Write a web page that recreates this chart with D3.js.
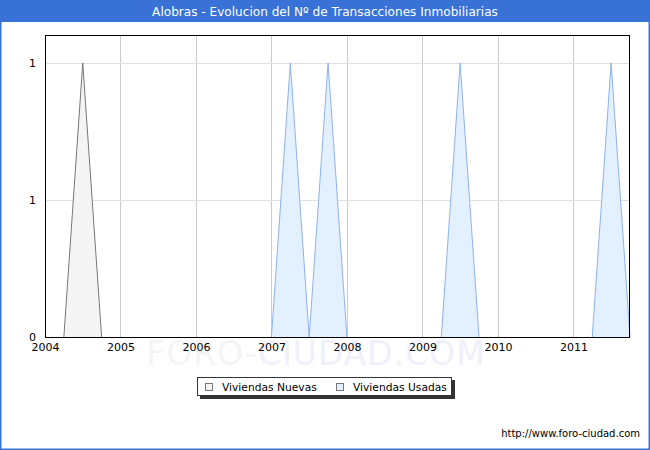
<!DOCTYPE html>
<html>
<head>
<meta charset="utf-8">
<script src="https://cdn.jsdelivr.net/npm/d3@7"></script>
<style>
  html, body { margin: 0; padding: 0; background: #fff; }
  svg { display: block; }
</style>
</head>
<body>
<svg id="chart" width="650" height="450"></svg>
<script>
// ---- Data (quarterly, 2004 Q1 .. 2011 Q4) ----
const quarters = [
  2004.00, 2004.25, 2004.50, 2004.75,
  2005.00, 2005.25, 2005.50, 2005.75,
  2006.00, 2006.25, 2006.50, 2006.75,
  2007.00, 2007.25, 2007.50, 2007.75,
  2008.00, 2008.25, 2008.50, 2008.75,
  2009.00, 2009.25, 2009.50, 2009.75,
  2010.00, 2010.25, 2010.50, 2010.75,
  2011.00, 2011.25, 2011.50, 2011.75
];
const viviendasNuevas = [
  0, 0, 1, 0,
  0, 0, 0, 0,
  0, 0, 0, 0,
  0, 0, 0, 0,
  0, 0, 0, 0,
  0, 0, 0, 0,
  0, 0, 0, 0,
  0, 0, 0, 0
];
const viviendasUsadas = [
  0, 0, 0, 0,
  0, 0, 0, 0,
  0, 0, 0, 0,
  0, 1, 0, 1,
  0, 0, 0, 0,
  0, 0, 1, 0,
  0, 0, 0, 0,
  0, 0, 1, 0
];
const xTickYears = [2004, 2005, 2006, 2007, 2008, 2009, 2010, 2011];
const yTickValues = [0, 0.5, 1];
const yTickLabels = ["0", "1", "1"];
const seriesNames = ["Viviendas Nuevas", "Viviendas Usadas"];
const titleText = "Alobras - Evolucion del Nº de Transacciones Inmobiliarias";

// ---- Layout ----
const W = 650, H = 450;
const plot = { left: 45, right: 630, top: 35, bottom: 337 };
const svg = d3.select("#chart");
const font = "DejaVu Sans, Verdana, sans-serif";

const x = d3.scaleLinear().domain([2004, 2011.75]).range([plot.left, plot.right]);
const y = d3.scaleLinear().domain([0, 1.102]).range([plot.bottom, plot.top]);

// background
svg.append("rect").attr("x", 0).attr("y", 0).attr("width", W).attr("height", H).attr("fill", "#fff");

// title bar
svg.append("rect").attr("x", 0).attr("y", 0).attr("width", W).attr("height", 22).attr("fill", "#3872d6");
svg.append("text").attr("x", W / 2).attr("y", 15.5).attr("text-anchor", "middle")
  .attr("font-family", font).attr("font-size", 12.1).attr("fill", "#fff").text(titleText);

// outer border
svg.append("rect").attr("x", 0.75).attr("y", 0.75).attr("width", W - 1.5).attr("height", H - 1.5)
  .attr("fill", "none").attr("stroke", "#3872d6").attr("stroke-width", 1.5);

// watermark
const wm = svg.append("text").attr("x", 316).attr("y", 365).attr("text-anchor", "middle")
  .attr("font-family", font).attr("font-size", 33).attr("letter-spacing", 1);
wm.append("tspan").attr("fill", "#f4f4f4").text("FORO-");
wm.append("tspan").attr("fill", "#f0f0fb").text("CIUDAD.COM");

// grid
const g = svg.append("g");
g.selectAll("line.vg").data(xTickYears.slice(1)).join("line")
  .attr("x1", d => Math.round(x(d)) + 0.5).attr("x2", d => Math.round(x(d)) + 0.5)
  .attr("y1", plot.top).attr("y2", plot.bottom)
  .attr("stroke", "#cccccc").attr("stroke-width", 1);
g.selectAll("line.hg").data(yTickValues.slice(1)).join("line")
  .attr("x1", plot.left).attr("x2", plot.right)
  .attr("y1", d => Math.round(y(d)) + 0.5).attr("y2", d => Math.round(y(d)) + 0.5)
  .attr("stroke", "#e0e0e0").attr("stroke-width", 1);

// areas
const pts = (vals) => quarters.map((q, i) => [q, vals[i]]);
const area = d3.area().x(d => x(d[0])).y0(y(0)).y1(d => y(d[1]));
const line = d3.line().x(d => x(d[0])).y(d => y(d[1]));

const seriesStyles = [
  { fill: "#f4f4f4", stroke: "#777777" },
  { fill: "#e2f0ff", stroke: "#8db2ec" }
];
[viviendasNuevas, viviendasUsadas].forEach((vals, i) => {
  const p = pts(vals);
  svg.append("path").datum(p).attr("d", area).attr("fill", seriesStyles[i].fill);
  const segs = [];
  for (let k = 0; k < p.length; k++) {
    if (p[k][1] > 0) segs.push([p[k - 1], p[k], p[k + 1]].filter(Boolean));
  }
  segs.forEach(s => {
    svg.append("path").datum(s).attr("d", line).attr("fill", "none")
      .attr("stroke", seriesStyles[i].stroke).attr("stroke-width", 1);
  });
});

// plot border
svg.append("rect").attr("x", plot.left + 0.5).attr("y", plot.top + 0.5)
  .attr("width", plot.right - plot.left - 1).attr("height", plot.bottom - plot.top)
  .attr("fill", "none").attr("stroke", "#000").attr("stroke-width", 1);

// axes
const xAxis = d3.axisBottom(x).tickValues(xTickYears).tickFormat(d3.format("d")).tickSize(0).tickPadding(6);
const xa = svg.append("g").attr("transform", `translate(0,${plot.bottom + 0.5})`).call(xAxis);
xa.select(".domain").remove();
xa.selectAll("text").attr("font-family", font).attr("font-size", 11).attr("fill", "#000");

const yAxis = d3.axisLeft(y).tickValues(yTickValues).tickFormat((d, i) => yTickLabels[i]).tickSize(0).tickPadding(9);
const ya = svg.append("g").attr("transform", `translate(${plot.left},0)`).call(yAxis);
ya.select(".domain").remove();
ya.selectAll("text").attr("font-family", font).attr("font-size", 11).attr("fill", "#000");

// legend
const lg = svg.append("g").attr("transform", "translate(197,377)");
lg.append("rect").attr("x", 3).attr("y", 3).attr("width", 255).attr("height", 19).attr("fill", "#333");
lg.append("rect").attr("x", 0.5).attr("y", 0.5).attr("width", 254).attr("height", 18)
  .attr("fill", "#fff").attr("stroke", "#333");
const legendItems = [
  { name: seriesNames[0], x: 8, style: seriesStyles[0], tx: 25 },
  { name: seriesNames[1], x: 139, style: seriesStyles[1], tx: 156 }
];
legendItems.forEach(it => {
  lg.append("rect").attr("x", it.x + 0.5).attr("y", 6.5).attr("width", 7).attr("height", 7)
    .attr("fill", it.style.fill).attr("stroke", "#777");
  lg.append("text").attr("x", it.tx).attr("y", 14).attr("font-family", font).attr("font-size", 10.7)
    .attr("fill", "#000").text(it.name);
});

// url
svg.append("text").attr("x", 640).attr("y", 437).attr("text-anchor", "end")
  .attr("font-family", font).attr("font-size", 10).attr("fill", "#000").text("http://www.foro-ciudad.com");
</script>
</body>
</html>
